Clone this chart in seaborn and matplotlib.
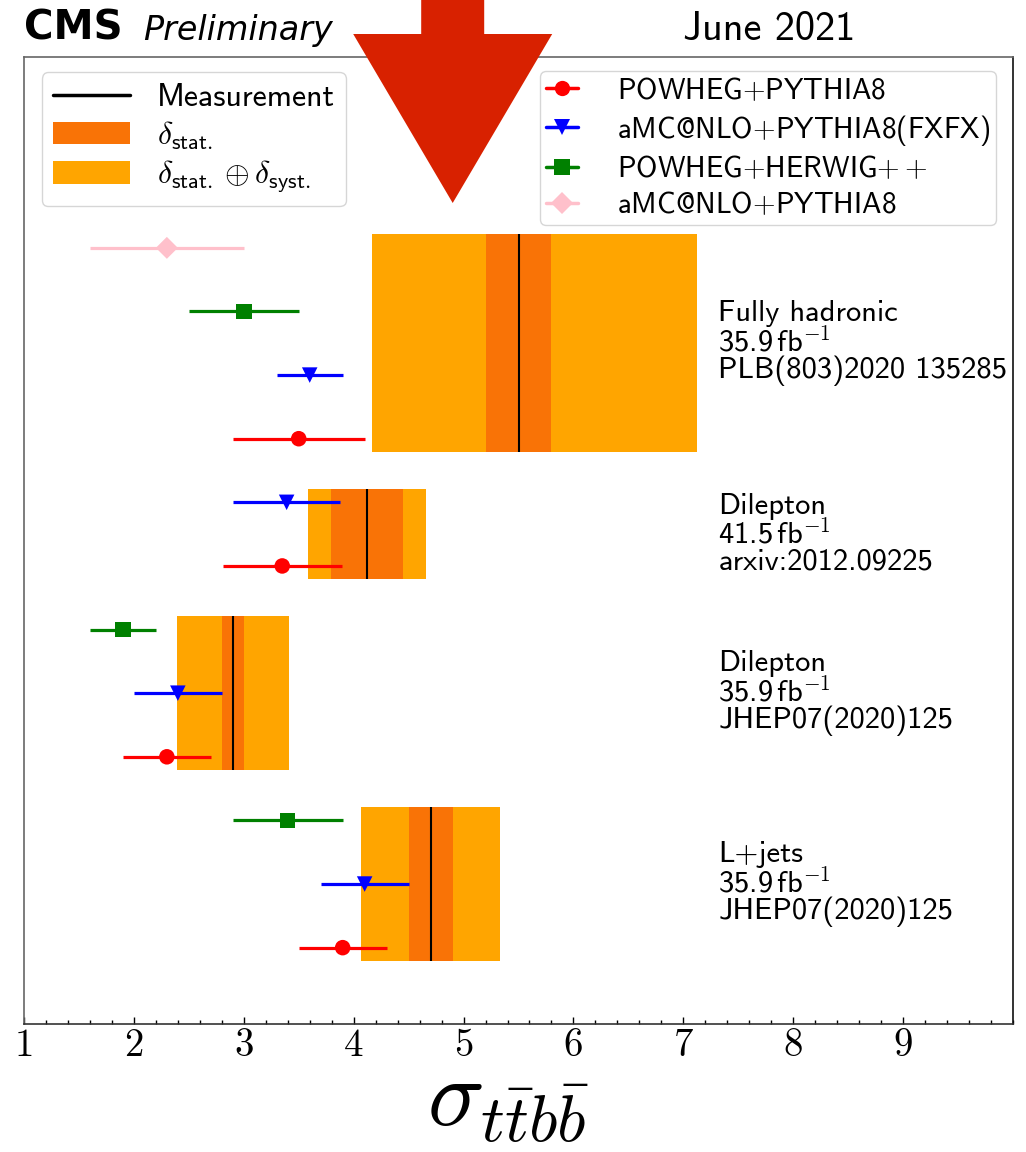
import numpy as np
import pandas as pd
import seaborn as sns
import matplotlib.pyplot as plt
from matplotlib.lines import Line2D
from matplotlib.patches import Patch, FancyArrow
from matplotlib.ticker import MultipleLocator
import matplotlib.transforms as mtransforms

# ---- measurements (top to bottom) -------------------------------------
channels = ["Fully hadronic", "Dilepton", "Dilepton", "L+jets"]
lumis = ["35.9", "41.5", "35.9", "35.9"]
references = ["PLB(803)2020 135285", "arxiv:2012.09225",
              "JHEP07(2020)125", "JHEP07(2020)125"]
meas_value = [5.5, 4.12, 2.9, 4.7]
meas_stat = [0.3, 0.33, 0.1, 0.2]
meas_syst_down = [1.3, 0.42, 0.5, 0.6]
meas_syst_up = [1.6, 0.42, 0.5, 0.6]

# ---- predictions, one entry per channel (nan = not shown) -------------
generators = ["POWHEG$+$PYTHIA8", "aMC@NLO$+$PYTHIA8(FXFX)",
              "POWHEG$+$HERWIG$++$", "aMC@NLO$+$PYTHIA8"]
gen_colors = ["red", "blue", "green", "pink"]
gen_markers = ["o", "v", "s", "D"]
powheg_py8 = [3.5, 3.35, 2.3, 3.9]
powheg_py8_err = [0.6, 0.54, 0.4, 0.4]
amcnlo_fxfx = [3.6, 3.39, 2.4, 4.1]
amcnlo_fxfx_err = [0.3, 0.49, 0.4, 0.4]
powheg_hw = [3.0, np.nan, 1.9, 3.4]
powheg_hw_err = [0.5, np.nan, 0.3, 0.5]
amcnlo_py8 = [2.3, np.nan, np.nan, np.nan]
amcnlo_py8_err = [0.7, np.nan, np.nan, np.nan]

pred_values = [powheg_py8, amcnlo_fxfx, powheg_hw, amcnlo_py8]
pred_errors = [powheg_py8_err, amcnlo_fxfx_err, powheg_hw_err, amcnlo_py8_err]

STAT_COLOR = "#f97306"
TOTAL_COLOR = "#ffa500"

# ---- style -------------------------------------------------------------
sns.set_theme(style="white")
plt.rcParams.update({
    "font.family": ["cmss10", "DejaVu Sans"],
    "mathtext.fontset": "cm",
    "axes.unicode_minus": False,
    "axes.formatter.use_mathtext": True,
    "text.color": "black",
    "xtick.color": "black",
    "axes.labelcolor": "black",
})

# ---- assign one row per prediction, stacked from the bottom -----------
records = []
group_rows = {}
row = 0
for ci in reversed(range(len(channels))):
    start = row
    for gi, gname in enumerate(generators):
        v = pred_values[gi][ci]
        if not np.isnan(v):
            records.append(dict(channel=ci, model=gname, value=v,
                                err=pred_errors[gi][ci], row=row))
            row += 1
    group_rows[ci] = (start, row - 1)
df = pd.DataFrame(records)

fig = plt.figure(figsize=(10.26, 11.52), dpi=100)
ax = fig.add_axes([24 / 1026, 1 - 1024 / 1152, 989 / 1026, 967 / 1152])

pad = 0.21
for ci in range(len(channels)):
    lo_row, hi_row = group_rows[ci]
    y0 = lo_row - pad
    h = hi_row - lo_row + 2 * pad
    m = meas_value[ci]
    st = meas_stat[ci]
    tot_dn = np.hypot(st, meas_syst_down[ci])
    tot_up = np.hypot(st, meas_syst_up[ci])
    ax.barh(y=y0, width=tot_dn + tot_up, left=m - tot_dn, height=h,
            align="edge", color=TOTAL_COLOR, linewidth=0, zorder=1)
    ax.barh(y=y0, width=2 * st, left=m - st, height=h,
            align="edge", color=STAT_COLOR, linewidth=0, zorder=2)
    ax.vlines(m, y0, y0 + h, color="black", lw=1.5, zorder=3)
    ax.text(7.32, (lo_row + hi_row) / 2,
            f"{channels[ci]}\n{lumis[ci]}$\\,$fb$^{{-1}}$\n{references[ci]}",
            fontsize=22, va="center", ha="left", linespacing=0.95,
            color="black")

palette = dict(zip(generators, gen_colors))
markers = dict(zip(generators, gen_markers))
ax.hlines(df["row"], df["value"] - df["err"], df["value"] + df["err"],
          colors=df["model"].map(palette), lw=2.3, zorder=4)
sns.scatterplot(data=df, x="value", y="row", hue="model", style="model",
                palette=palette, markers=markers, s=125, linewidth=0,
                legend=False, zorder=5, ax=ax)

ax.set_xlim(1, 10)
ax.set_ylim(-1.2, 14.0)
ax.set_yticks([])
ax.set_ylabel("")
ax.set_xticks(range(1, 10))
ax.set_xticklabels([str(t) for t in range(1, 10)], fontfamily="cmr10",
                   fontsize=28, color="black")
ax.xaxis.set_minor_locator(MultipleLocator(0.2))
ax.tick_params(axis="x", which="major", direction="in", length=5, width=1,
               pad=3, bottom=True, colors="black")
ax.tick_params(axis="x", which="minor", direction="in", length=3, width=1,
               bottom=True, colors="black")
ax.set_xlabel(r"$\sigma_{t\bar{t}b\bar{b}}$", fontsize=68, color="black",
              va="top")
ax.xaxis.set_label_coords(0.489, -0.0385)

for side, col in [("left", "#666666"), ("top", "#666666"),
                  ("right", "#111111"), ("bottom", "#333333")]:
    ax.spines[side].set_color(col)
    ax.spines[side].set_linewidth(1.2)

# ---- legends -----------------------------------------------------------
meas_handles = [Line2D([0], [0], color="black", lw=2.5),
                Patch(facecolor=STAT_COLOR, edgecolor="none"),
                Patch(facecolor=TOTAL_COLOR, edgecolor="none")]
meas_labels = ["Measurement", r"$\delta_{\mathsf{stat.}}$",
               r"$\delta_{\mathsf{stat.}} \oplus \delta_{\mathsf{syst.}}$"]
leg1 = ax.legend(meas_handles, meas_labels, loc="upper left",
                 bbox_to_anchor=(0.0179, 0.9842), borderaxespad=0,
                 fontsize=23, handlelength=2.4, handleheight=0.7,
                 handletextpad=0.85, labelspacing=0.22, borderpad=0.35,
                 labelcolor="black")
ax.add_artist(leg1)

gen_handles = [Line2D([0], [0], color=c, marker=mk, ms=11, lw=2.5, mew=0)
               for c, mk in zip(gen_colors, gen_markers)]
ax.legend(gen_handles, generators, loc="upper right",
          bbox_to_anchor=(0.9828, 0.9855), borderaxespad=0,
          fontsize=21, handlelength=1.1, handletextpad=1.35,
          labelspacing=0.27, borderpad=0.2, labelcolor="black")

# ---- header ------------------------------------------------------------
ax.text(0.0, 1.018, "CMS", transform=ax.transAxes, fontsize=29,
        fontweight="bold", family="DejaVu Sans", va="baseline",
        color="black")
ax.text(0.1203, 1.018, "Preliminary", transform=ax.transAxes, fontsize=24,
        style="italic", family="DejaVu Sans", va="baseline", color="black")
hdr = mtransforms.blended_transform_factory(ax.transData, ax.transAxes)
ax.text(7.0, 1.018, "June 2021", transform=hdr, fontsize=29,
        va="baseline", color="black")

# ---- marker arrow over the plot ------------------------------------------
arrow = FancyArrow(4.527, 11.52, 0, -2.03, width=0.63, head_width=1.99,
                   head_length=1.69, length_includes_head=True,
                   color="#d82100", lw=0, transform=fig.dpi_scale_trans,
                   zorder=10)
fig.patches.append(arrow)

fig.savefig("out.png", dpi=100)
